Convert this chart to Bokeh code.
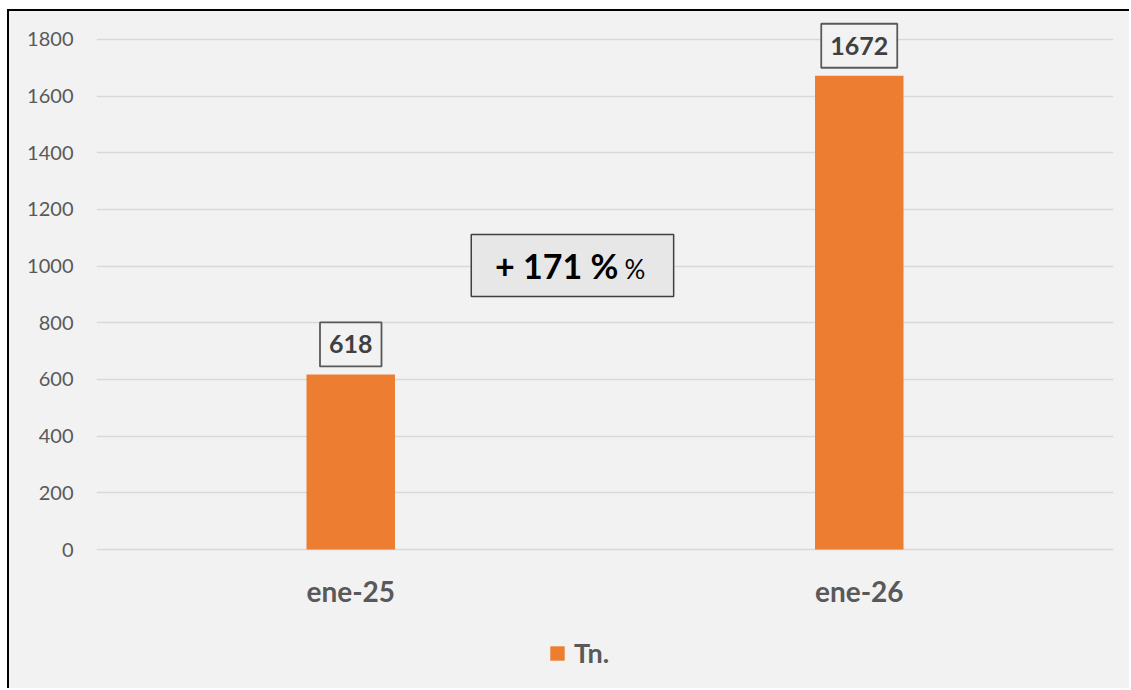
from bokeh.plotting import figure
from bokeh.models import ColumnDataSource, FixedTicker, Legend, LegendItem, Range1d, FactorRange
from bokeh.core.properties import value
from bokeh.embed import file_html
from bokeh.resources import INLINE

categories = ["ene-25", "ene-26"]
tons = [618, 1672]
y_ticks = [0, 200, 400, 600, 800, 1000, 1200, 1400, 1600, 1800]
change_main = "+ 171 %"
change_suffix = "%"
series_name = "Tn."

FONT = "Lato"
BG = "#f2f2f2"
BAR = "#ed7d31"
GREY = "#595959"

src = ColumnDataSource(dict(cat=categories, val=tons, lab=[str(v) for v in tons],
                            base=[0] * len(categories)))

p = figure(x_range=FactorRange(*categories), y_range=Range1d(-497.6, 1867),
           width=1122, height=679, output_backend="svg", toolbar_location=None,
           x_axis_location=None,
           min_border_left=87, min_border_right=18, min_border_top=9, min_border_bottom=0)
p.styles = {"border-left": "2px solid black", "border-top": "2px solid black",
            "margin-left": "7px", "margin-top": "9px", "background-color": BG}
p.background_fill_color = BG
p.border_fill_color = BG
p.outline_line_color = None

bars = p.vbar(x="cat", top="val", width=0.174, source=src, fill_color=BAR, line_color=None)

# value labels with boxes
p.text(x="cat", y="val", text="lab", source=src, text_align="center", text_baseline="bottom",
       y_offset=-8, text_font=value(FONT), text_font_style="bold", text_font_size="25px",
       text_color="#404040", padding=(9, 9, 13, 13), border_line_color=GREY,
       border_line_width=1.8, background_fill_color=BG)

# category labels (x axis)
p.text(x="cat", y="base", text="cat", source=src, text_align="center", text_baseline="middle",
       y_offset=41, text_font=value(FONT), text_font_style="bold", text_font_size="28px",
       text_color=GREY)

# change annotation box (between the two bars)
p.quad(left=[0.737], right=[1.135], bottom=[893], top=[1112], fill_color="#e7e7e7",
       line_color="#404040", line_width=1.5)
p.text(x=[0.905], y=[1002], text=[change_main], text_align="center", text_baseline="middle",
       text_font=value(FONT), text_font_style="bold", text_font_size="34px", text_color="black")
p.text(x=[1.059], y=[990], text=[change_suffix], text_align="center", text_baseline="middle",
       text_font=value(FONT), text_font_size="26px", text_color="black")

p.yaxis.ticker = FixedTicker(ticks=y_ticks)
p.yaxis.axis_line_color = None
p.yaxis.major_tick_line_color = None
p.yaxis.minor_tick_line_color = None
p.yaxis.major_tick_out = 0
p.yaxis.major_label_standoff = 23
p.yaxis.major_label_text_font = FONT
p.yaxis.major_label_text_font_size = "20px"
p.yaxis.major_label_text_color = GREY

for g in p.xgrid:
    g.visible = False
p.ygrid.grid_line_color = "#d9d9d9"
p.ygrid.grid_line_width = 1.5

legend = Legend(items=[LegendItem(label=series_name, renderers=[bars])], location=(452, 21),
                orientation="horizontal", glyph_width=18, glyph_height=18,
                label_text_font=FONT, label_text_font_style="bold", label_text_font_size="27px",
                label_text_color=GREY, background_fill_alpha=0, border_line_color=None,
                padding=0, margin=0, label_standoff=8)
p.add_layout(legend, "center")

open("out.html", "w").write(file_html(p, INLINE))
